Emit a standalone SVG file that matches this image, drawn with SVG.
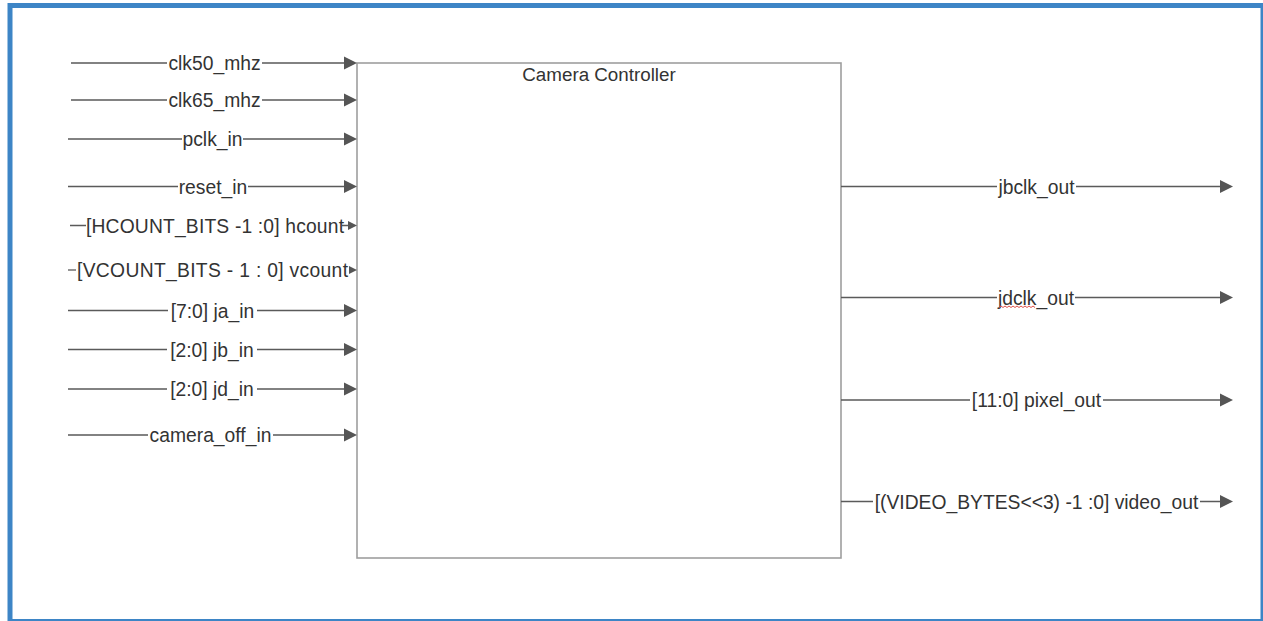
<svg xmlns="http://www.w3.org/2000/svg" width="1263" height="621" viewBox="0 0 1263 621">
  <defs>
    <style>
      .frame { fill: #ffffff; stroke: #3d85c6; stroke-width: 5; }
      .block { fill: #ffffff; stroke: #9e9e9e; stroke-width: 1.6; }
      .wire { stroke: #5a5a5a; stroke-width: 1.3; fill: none; }
      .head { fill: #555555; }
      .lbl { font-family: "Liberation Sans", Arial, Helvetica, sans-serif; font-size: 19.3px; fill: #333333; text-anchor: middle; }
      .title { font-family: "Liberation Sans", Arial, Helvetica, sans-serif; font-size: 18.8px; fill: #333333; text-anchor: middle; }
      .squiggle { stroke: #e0524a; stroke-width: 1; fill: none; }
    </style>
  </defs>

  <!-- outer frame -->
  <rect class="frame" x="10" y="5.5" width="1253" height="616"/>

  <!-- module block -->
  <g id="camera-controller">
    <rect class="block" x="357" y="63" width="484" height="495"/>
    <text class="title" x="599" y="81">Camera Controller</text>
  </g>

  <!-- input and output wires -->
  <g id="connectors">
    <!-- inputs -->
    <g id="in-clk50">
      <path class="wire" d="M71 63H167M262 63H344"/>
      <path class="head" d="M344 56.5L357 63L344 69.5Z"/>
      <text class="lbl" x="214.5" y="70">clk50_mhz</text>
    </g>
    <g id="in-clk65">
      <path class="wire" d="M71 100H167M262 100H344"/>
      <path class="head" d="M344 93.5L357 100L344 106.5Z"/>
      <text class="lbl" x="214.5" y="107">clk65_mhz</text>
    </g>
    <g id="in-pclk">
      <path class="wire" d="M68 139H182M243 139H344"/>
      <path class="head" d="M344 132.5L357 139L344 145.5Z"/>
      <text class="lbl" x="212.5" y="146">pclk_in</text>
    </g>
    <g id="in-reset">
      <path class="wire" d="M68 186.5H178M248 186.5H344"/>
      <path class="head" d="M344 180L357 186.5L344 193Z"/>
      <text class="lbl" x="213" y="193.5">reset_in</text>
    </g>
    <g id="in-hcount">
      <path class="wire" d="M70 225.5H86M342 225.5H348"/>
      <path class="head" d="M348 221L357 225.5L348 230Z"/>
      <text class="lbl" x="215" y="232.5" textLength="258" lengthAdjust="spacing">[HCOUNT_BITS -1 :0] hcount</text>
    </g>
    <g id="in-vcount">
      <path class="wire" d="M68 270H76"/>
      <path class="head" d="M349 266L357 270L349 274Z"/>
      <text class="lbl" x="212.5" y="277" textLength="271" lengthAdjust="spacing">[VCOUNT_BITS - 1 : 0] vcount</text>
    </g>
    <g id="in-ja">
      <path class="wire" d="M68 310.5H168M257 310.5H344"/>
      <path class="head" d="M344 304L357 310.5L344 317Z"/>
      <text class="lbl" x="212.5" y="317.5">[7:0] ja_in</text>
    </g>
    <g id="in-jb">
      <path class="wire" d="M68 349.5H167M257 349.5H344"/>
      <path class="head" d="M344 343L357 349.5L344 356Z"/>
      <text class="lbl" x="212" y="356.5">[2:0] jb_in</text>
    </g>
    <g id="in-jd">
      <path class="wire" d="M68 389H167M257 389H344"/>
      <path class="head" d="M344 382.5L357 389L344 395.5Z"/>
      <text class="lbl" x="212" y="396">[2:0] jd_in</text>
    </g>
    <g id="in-camera-off">
      <path class="wire" d="M68 435H148M273 435H344"/>
      <path class="head" d="M344 428.5L357 435L344 441.5Z"/>
      <text class="lbl" x="210.5" y="442">camera_off_in</text>
    </g>

    <!-- outputs -->
    <g id="out-jbclk">
      <path class="wire" d="M841 186.5H997M1076 186.5H1220"/>
      <path class="head" d="M1220 180L1233 186.5L1220 193Z"/>
      <text class="lbl" x="1036.5" y="193.5">jbclk_out</text>
    </g>
    <g id="out-jdclk">
      <path class="wire" d="M841 297.5H997M1075 297.5H1220"/>
      <path class="head" d="M1220 291L1233 297.5L1220 304Z"/>
      <text class="lbl" x="1036" y="304.5">jdclk_out</text>
      <path class="squiggle" d="M999 307.5l2-1.5l2 1.5l2-1.5l2 1.5l2-1.5l2 1.5l2-1.5l2 1.5l2-1.5l2 1.5l2-1.5l2 1.5l2-1.5l2 1.5l2-1.5l2 1.5l2-1.5l2 1.5"/>
    </g>
    <g id="out-pixel">
      <path class="wire" d="M841 400H970M1103 400H1220"/>
      <path class="head" d="M1220 393.5L1233 400L1220 406.5Z"/>
      <text class="lbl" x="1036.5" y="407">[11:0] pixel_out</text>
    </g>
    <g id="out-video">
      <path class="wire" d="M841 501.5H873M1200 501.5H1220"/>
      <path class="head" d="M1220 495L1233 501.5L1220 508Z"/>
      <text class="lbl" x="1036.5" y="508.5">[(VIDEO_BYTES&lt;&lt;3) -1 :0] video_out</text>
    </g>
  </g>
</svg>
